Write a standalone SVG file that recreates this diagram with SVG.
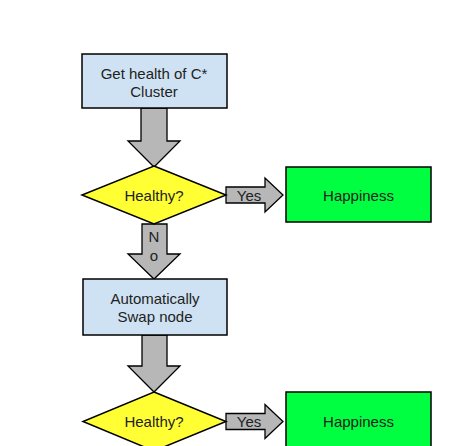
<svg xmlns="http://www.w3.org/2000/svg" width="474" height="446" viewBox="0 0 474 446">
<style>
.box{fill:#cfe2f3;stroke:#000;stroke-width:1.5}
.dia{fill:#ffff33;stroke:#000;stroke-width:1.5}
.ok{fill:#00ff40;stroke:#000;stroke-width:1.5}
.arr{fill:#b7b7b7;stroke:#000;stroke-width:1.3;stroke-linejoin:miter}
text{font-family:"Liberation Sans",Arial,sans-serif;font-size:15px;fill:#222;text-anchor:middle}
</style>
<rect width="474" height="446" fill="#fff"/>
<g id="connectors">
<polygon class="arr" points="141,108 167,108 167,141 180,141 154,167 128,141 141,141"/>
<polygon class="arr" points="226,187 265,187 265,178 283,195 265,212 265,203 226,203"/>
<text x="249" y="200.5">Yes</text>
<polygon class="arr" points="142,224 167,224 167,254 180,254 154,279 128,254 142,254"/>
<text x="154" y="242">N</text>
<text x="154" y="261">o</text>
<polygon class="arr" points="142,335 167,335 167,366 180,366 154,392 128,366 142,366"/>
<polygon class="arr" points="226,413.5 265,413.5 265,404.5 283,421.5 265,438.5 265,429.5 226,429.5"/>
<text x="249" y="427">Yes</text>
</g>
<g id="n1">
<rect class="box" x="82" y="54" width="145" height="54"/>
<text x="154" y="79">Get health of C*</text>
<text x="154" y="97">Cluster</text>
</g>
<g id="d1">
<polygon class="dia" points="154,166 226,195 154,224 82,195"/>
<text x="154" y="200.5">Healthy?</text>
</g>
<g id="h1">
<rect class="ok" x="286" y="167" width="145" height="55"/>
<text x="358.5" y="200.5">Happiness</text>
</g>
<g id="n2">
<rect class="box" x="83" y="279" width="144" height="56"/>
<text x="155" y="304">Automatically</text>
<text x="155" y="322">Swap node</text>
</g>
<g id="d2">
<polygon class="dia" points="154,392 226,421.5 154,451 83,421.5"/>
<text x="154" y="427">Healthy?</text>
</g>
<g id="h2">
<rect class="ok" x="286" y="392" width="145" height="56"/>
<text x="358.5" y="427">Happiness</text>
</g>
</svg>
